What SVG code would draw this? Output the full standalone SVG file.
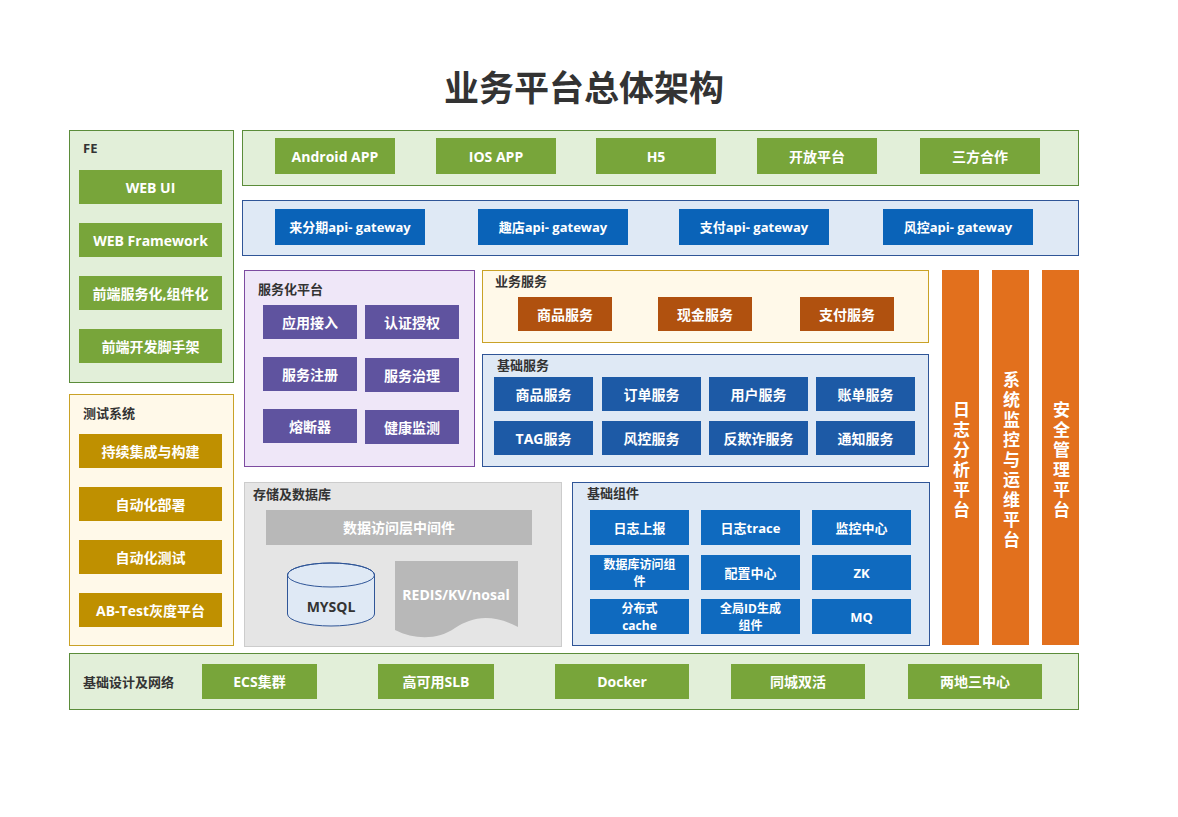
<svg xmlns="http://www.w3.org/2000/svg" width="1178" height="817" viewBox="0 0 1178 817">
<style>
text{font-family:"Open Sans","Noto Sans CJK SC","Noto Sans",sans-serif;font-weight:bold}
.t{fill:#fff;font-size:14px;text-anchor:middle;dominant-baseline:central}
.s{font-size:13px;fill:#fff;text-anchor:middle;dominant-baseline:central}
.s2{font-size:12px;fill:#fff;text-anchor:middle;dominant-baseline:central}
.lbl{fill:#333;font-size:13px;dominant-baseline:central}
.pg{fill:#e2efd9;stroke:#5b8c3a;stroke-width:1}
.py{fill:#fff9e9;stroke:#c9a227;stroke-width:1}
.pb{fill:#dfe9f5;stroke:#2f5597;stroke-width:1}
.pp{fill:#efe7f8;stroke:#7d4ba0;stroke-width:1}
.pgr{fill:#e5e5e5;stroke:#cccccc;stroke-width:1}
.g{fill:#78a53a}
.y{fill:#bf9000}
.bl{fill:#0a63b8}
.bs{fill:#1d5aa6}
.bc{fill:#0f6abf}
.pu{fill:#5f539f}
.br{fill:#b0510f}
.or{fill:#e2701d}
.vt{fill:#fff;font-size:17px;text-anchor:middle;writing-mode:vertical-rl;letter-spacing:3px}
</style>
<rect width="1178" height="817" fill="#fff"/>
<text x="584" y="87" font-size="35" fill="#333" text-anchor="middle" dominant-baseline="central">业务平台总体架构</text>

<g id="fe">
<rect class="pg" x="69.500" y="130.500" width="164" height="252"/>
<text class="lbl" x="83" y="148">FE</text>
<rect class="g" x="79" y="170" width="143" height="34"/><text class="t" x="150.500" y="187">WEB UI</text>
<rect class="g" x="79" y="223" width="143" height="34"/><text class="t" x="150.500" y="240">WEB Framework</text>
<rect class="g" x="79" y="276" width="143" height="34"/><text class="t" x="150.500" y="293">前端服务化,组件化</text>
<rect class="g" x="79" y="329" width="143" height="34"/><text class="t" x="150.500" y="346">前端开发脚手架</text>
</g>

<g id="test">
<rect class="py" x="69.500" y="394.500" width="164" height="251"/>
<text class="lbl" x="83" y="413">测试系统</text>
<rect class="y" x="79" y="434" width="143" height="34"/><text class="t" x="150.500" y="451">持续集成与构建</text>
<rect class="y" x="79" y="487" width="143" height="34"/><text class="t" x="150.500" y="504">自动化部署</text>
<rect class="y" x="79" y="540" width="143" height="34"/><text class="t" x="150.500" y="557">自动化测试</text>
<rect class="y" x="79" y="593" width="143" height="34"/><text class="t" x="150.500" y="610">AB-Test灰度平台</text>
</g>

<g id="clients">
<rect class="pg" x="242.500" y="130.500" width="836" height="55"/>
<rect class="g" x="275" y="138" width="120" height="36"/><text class="t" x="335" y="156">Android APP</text>
<rect class="g" x="436" y="138" width="120" height="36"/><text class="t" x="496" y="156">IOS APP</text>
<rect class="g" x="596" y="138" width="120" height="36"/><text class="t" x="656" y="156">H5</text>
<rect class="g" x="757" y="138" width="120" height="36"/><text class="t" x="817" y="156">开放平台</text>
<rect class="g" x="920" y="138" width="120" height="36"/><text class="t" x="980" y="156">三方合作</text>
</g>

<g id="gateway">
<rect class="pb" x="242.500" y="200.500" width="836" height="55"/>
<rect class="bl" x="275" y="209" width="150" height="36"/><text class="s" x="350" y="227">来分期api- gateway</text>
<rect class="bl" x="478" y="209" width="150" height="36"/><text class="s" x="553" y="227">趣店api- gateway</text>
<rect class="bl" x="679" y="209" width="150" height="36"/><text class="s" x="754" y="227">支付api- gateway</text>
<rect class="bl" x="883" y="209" width="150" height="36"/><text class="s" x="958" y="227">风控api- gateway</text>
</g>

<g id="svcplatform">
<rect class="pp" x="244.500" y="270.500" width="230" height="196"/>
<text class="lbl" x="258" y="289">服务化平台</text>
<rect class="pu" x="263" y="305" width="94" height="34"/><text class="t" x="310" y="322">应用接入</text>
<rect class="pu" x="365" y="305" width="94" height="34"/><text class="t" x="412" y="322">认证授权</text>
<rect class="pu" x="263" y="357" width="94" height="34"/><text class="t" x="310" y="374">服务注册</text>
<rect class="pu" x="365" y="358" width="94" height="34"/><text class="t" x="412" y="375">服务治理</text>
<rect class="pu" x="263" y="409" width="94" height="34"/><text class="t" x="310" y="426">熔断器</text>
<rect class="pu" x="365" y="410" width="94" height="34"/><text class="t" x="412" y="427">健康监测</text>
</g>

<g id="bizsvc">
<rect class="py" x="482.500" y="270.500" width="446" height="72"/>
<text class="lbl" x="495" y="281">业务服务</text>
<rect class="br" x="518" y="297" width="94" height="34"/><text class="t" x="565" y="314">商品服务</text>
<rect class="br" x="658" y="297" width="94" height="34"/><text class="t" x="705" y="314">现金服务</text>
<rect class="br" x="800" y="297" width="94" height="34"/><text class="t" x="847" y="314">支付服务</text>
</g>

<g id="basesvc">
<rect class="pb" x="482.500" y="354.500" width="446" height="112"/>
<text class="lbl" x="497" y="365">基础服务</text>
<rect class="bs" x="494" y="377" width="99" height="34"/><text class="t" x="543.500" y="394">商品服务</text>
<rect class="bs" x="602" y="377" width="99" height="34"/><text class="t" x="651.500" y="394">订单服务</text>
<rect class="bs" x="709" y="377" width="99" height="34"/><text class="t" x="758.500" y="394">用户服务</text>
<rect class="bs" x="816" y="377" width="99" height="34"/><text class="t" x="865.500" y="394">账单服务</text>
<rect class="bs" x="494" y="421" width="99" height="34"/><text class="t" x="543.500" y="438">TAG服务</text>
<rect class="bs" x="602" y="421" width="99" height="34"/><text class="t" x="651.500" y="438">风控服务</text>
<rect class="bs" x="709" y="421" width="99" height="34"/><text class="t" x="758.500" y="438">反欺诈服务</text>
<rect class="bs" x="816" y="421" width="99" height="34"/><text class="t" x="865.500" y="438">通知服务</text>
</g>

<g id="storage">
<rect class="pgr" x="244.500" y="482.500" width="317" height="164"/>
<text class="lbl" x="253" y="494">存储及数据库</text>
<rect x="266" y="510" width="266" height="35" fill="#b8b8b8"/><text class="t" x="399" y="527">数据访问层中间件</text>
<path d="M287.500,575 L287.500,614 A43.500,12 0 0 0 374.500,614 L374.500,575 A43.500,12 0 0 0 287.500,575 Z" fill="#dfe9f5" stroke="#2f5597" stroke-width="1"/>
<ellipse cx="331" cy="575" rx="43.500" ry="12" fill="none" stroke="#2f5597" stroke-width="1"/>
<text x="331" y="606" font-size="14" fill="#333" text-anchor="middle" dominant-baseline="central">MYSQL</text>
<path d="M395,561 L518,561 L518,627 C490,612 470,618 455,628 C438,640 415,640 395,630 Z" fill="#b8b8b8"/>
<text class="t" x="456" y="594">REDIS/KV/nosal</text>
</g>

<g id="basecomp">
<rect class="pb" x="572.500" y="482.500" width="357" height="163"/>
<text class="lbl" x="587" y="493">基础组件</text>
<rect class="bc" x="590" y="510" width="99" height="35"/><text class="s" x="639.500" y="527.500">日志上报</text>
<rect class="bc" x="701" y="510" width="99" height="35"/><text class="s" x="750.500" y="527.500">日志trace</text>
<rect class="bc" x="812" y="510" width="99" height="35"/><text class="s" x="861.500" y="527.500">监控中心</text>
<rect class="bc" x="590" y="555" width="99" height="35"/><text class="s2" x="639.500" y="564">数据库访问组</text><text class="s2" x="639.500" y="581">件</text>
<rect class="bc" x="701" y="555" width="99" height="35"/><text class="s" x="750.500" y="572.500">配置中心</text>
<rect class="bc" x="812" y="555" width="99" height="35"/><text class="s" x="861.500" y="572.500">ZK</text>
<rect class="bc" x="590" y="599" width="99" height="35"/><text class="s2" x="639.500" y="608">分布式</text><text class="s2" x="639.500" y="625">cache</text>
<rect class="bc" x="701" y="599" width="99" height="35"/><text class="s2" x="750.500" y="608">全局ID生成</text><text class="s2" x="750.500" y="625">组件</text>
<rect class="bc" x="812" y="599" width="99" height="35"/><text class="s" x="861.500" y="616.500">MQ</text>
</g>

<g id="logplatform">
<rect class="or" x="942" y="270" width="37" height="375"/>
<text class="vt" x="960.500" y="461">日志分析平台</text>
</g>
<g id="monitorplatform">
<rect class="or" x="992" y="270" width="37" height="375"/>
<text class="vt" x="1010.500" y="461">系统监控与运维平台</text>
</g>
<g id="secplatform">
<rect class="or" x="1042" y="270" width="37" height="375"/>
<text class="vt" x="1060.500" y="461">安全管理平台</text>
</g>

<g id="infra">
<rect class="pg" x="69.500" y="653.500" width="1009" height="56"/>
<text class="lbl" x="83" y="682" font-size="12">基础设计及网络</text>
<rect class="g" x="202" y="664" width="115" height="35"/><text class="t" x="259.500" y="681.500">ECS集群</text>
<rect class="g" x="378" y="664" width="116" height="35"/><text class="t" x="436" y="681.500">高可用SLB</text>
<rect class="g" x="555" y="664" width="134" height="35"/><text class="t" x="622" y="681.500">Docker</text>
<rect class="g" x="731" y="664" width="134" height="35"/><text class="t" x="798" y="681.500">同城双活</text>
<rect class="g" x="908" y="664" width="134" height="35"/><text class="t" x="975" y="681.500">两地三中心</text>
</g>
<g id="connectors"/>
</svg>
